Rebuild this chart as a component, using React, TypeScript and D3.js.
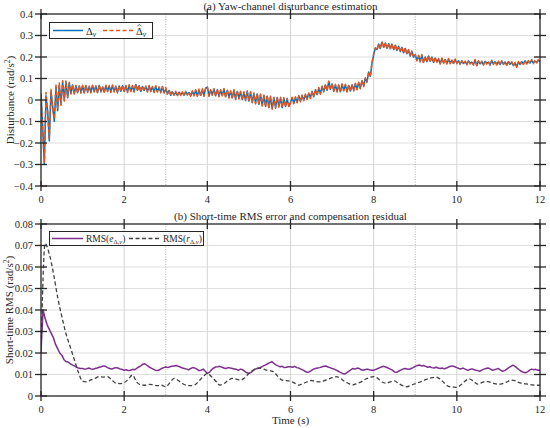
import React from "react";
import * as d3 from "d3";

// ---------- data ----------
const topStep = 0.04;
const deltaTrue = [
  0.03,-0.12,-0.30,0.02,-0.05,-0.19,0.04,-0.03,-0.10,0.06,-0.05,0.07,-0.02,0.085,0.0,0.085,0.01,0.08,0.03,0.07,0.03,0.065,0.035,0.065,0.035,
  0.065,0.035,0.067,0.038,0.062,0.036,0.066,0.04,0.063,0.035,0.068,0.04,0.06,0.037,0.066,0.042,0.064,0.038,0.067,0.04,0.062,0.036,0.065,0.041,0.066,
  0.04,0.065,0.038,0.068,0.042,0.064,0.04,0.072,0.045,0.066,0.04,0.063,0.044,0.062,0.04,0.064,0.042,0.06,0.038,0.063,0.04,0.058,0.036,0.06,0.035,
  0.05,0.03,0.045,0.022,0.038,0.024,0.036,0.022,0.037,0.025,0.035,0.022,0.038,0.026,0.035,0.02,0.04,0.022,0.045,0.02,0.044,0.022,0.048,0.02,0.055,
  0.06,0.02,0.045,0.025,0.05,0.02,0.048,0.018,0.045,0.022,0.05,0.015,0.045,0.012,0.04,0.01,0.045,0.005,0.04,0.008,0.038,0.002,0.035,0.0,0.04,
  -0.005,0.035,-0.01,0.03,-0.015,0.028,-0.02,0.025,-0.025,0.02,-0.03,0.018,-0.035,0.015,-0.04,0.01,-0.035,0.012,-0.03,0.01,-0.035,0.008,-0.03,0.005,-0.03,
  -0.01,0.01,-0.015,0.012,-0.01,0.018,-0.005,0.02,0.0,0.025,0.005,0.03,0.01,0.04,0.015,0.048,0.025,0.055,0.03,0.062,0.04,0.07,0.045,0.085,0.05,
  0.075,0.042,0.07,0.04,0.068,0.038,0.072,0.045,0.07,0.04,0.068,0.042,0.07,0.045,0.075,0.05,0.08,0.055,0.09,0.065,0.1,0.085,0.13,0.11,0.17,
  0.21,0.24,0.235,0.26,0.24,0.27,0.245,0.265,0.24,0.262,0.238,0.26,0.235,0.255,0.23,0.25,0.225,0.245,0.22,0.24,0.215,0.232,0.205,0.225,0.2,
  0.21,0.185,0.205,0.18,0.208,0.175,0.2,0.178,0.205,0.18,0.2,0.175,0.195,0.178,0.19,0.17,0.192,0.172,0.188,0.17,0.19,0.172,0.185,0.17,0.188,
  0.172,0.182,0.168,0.18,0.17,0.178,0.166,0.182,0.17,0.176,0.165,0.185,0.162,0.18,0.168,0.178,0.165,0.18,0.17,0.176,0.164,0.182,0.168,0.178,0.166,
  0.178,0.165,0.18,0.168,0.176,0.164,0.178,0.166,0.175,0.16,0.172,0.155,0.176,0.165,0.178,0.168,0.182,0.17,0.18,0.172,0.185,0.172,0.18,0.175,0.185,
  0.178,
];
const deltaEst = [
  0.03,-0.15,-0.29,0.035,-0.06,-0.18,0.05,-0.04,-0.09,0.07,-0.045,0.08,-0.025,0.09,-0.005,0.088,0.012,0.082,0.028,0.072,0.028,0.068,0.032,0.068,0.032,
  0.068,0.032,0.07,0.035,0.065,0.033,0.069,0.037,0.066,0.032,0.071,0.037,0.063,0.034,0.069,0.039,0.067,0.035,0.07,0.037,0.065,0.033,0.068,0.038,0.069,
  0.037,0.068,0.035,0.071,0.039,0.067,0.037,0.075,0.042,0.069,0.037,0.066,0.041,0.065,0.037,0.067,0.039,0.063,0.035,0.066,0.037,0.061,0.033,0.063,0.032,
  0.058,0.027,0.048,0.019,0.043,0.022,0.041,0.017,0.04,0.021,0.038,0.019,0.041,0.022,0.039,0.017,0.043,0.019,0.048,0.017,0.051,0.015,0.053,0.017,0.058,
  0.063,0.017,0.048,0.022,0.053,0.017,0.051,0.015,0.048,0.019,0.053,0.012,0.048,0.009,0.043,0.007,0.048,0.002,0.043,0.005,0.041,-0.001,0.038,-0.003,0.043,
  -0.008,0.038,-0.013,0.033,-0.018,0.031,-0.023,0.028,-0.028,0.023,-0.033,0.021,-0.038,0.018,-0.043,0.013,-0.038,0.015,-0.033,0.013,-0.038,0.011,-0.033,0.008,-0.033,
  -0.013,0.013,-0.018,0.015,-0.013,0.021,-0.008,0.023,-0.003,0.028,0.002,0.033,0.007,0.043,0.012,0.051,0.022,0.058,0.027,0.065,0.037,0.073,0.042,0.088,0.047,
  0.078,0.039,0.073,0.037,0.071,0.035,0.075,0.042,0.073,0.037,0.071,0.039,0.073,0.042,0.078,0.047,0.083,0.052,0.093,0.062,0.103,0.082,0.133,0.107,0.175,
  0.215,0.243,0.232,0.263,0.237,0.273,0.242,0.268,0.237,0.265,0.235,0.263,0.232,0.258,0.227,0.253,0.222,0.248,0.217,0.243,0.212,0.235,0.202,0.228,0.197,
  0.213,0.182,0.208,0.177,0.211,0.172,0.203,0.175,0.208,0.177,0.203,0.172,0.198,0.175,0.193,0.167,0.195,0.169,0.191,0.167,0.193,0.169,0.188,0.167,0.191,
  0.169,0.185,0.165,0.183,0.167,0.181,0.163,0.185,0.167,0.179,0.162,0.188,0.159,0.183,0.165,0.181,0.162,0.183,0.167,0.179,0.161,0.185,0.165,0.181,0.163,
  0.181,0.162,0.183,0.165,0.179,0.161,0.181,0.163,0.178,0.157,0.175,0.152,0.179,0.162,0.181,0.165,0.185,0.167,0.183,0.169,0.188,0.169,0.183,0.172,0.188,
  0.18,
];

const rmsEStep = 0.05;
const rmsE = [
  0.021,0.040,0.036,0.033,0.031,0.029,0.027,0.024,0.022,0.020,0.019,0.017,0.016,0.0158,0.015,0.0145,0.014,0.0135,0.013,0.0128,
  0.0128,0.0125,0.0127,0.013,0.0126,0.0124,0.0128,0.013,0.0134,0.0136,0.014,0.0138,0.0132,0.0128,0.0126,0.0129,0.0132,0.013,0.0126,0.0124,
  0.012,0.0122,0.0118,0.012,0.0124,0.0122,0.0128,0.0135,0.014,0.0148,0.015,0.0142,0.0135,0.013,0.0125,0.012,0.0118,0.0122,0.0128,0.0132,
  0.0135,0.0132,0.0136,0.0138,0.014,0.0142,0.0138,0.0135,0.013,0.0128,0.0125,0.0122,0.0128,0.0132,0.013,0.0125,0.0118,0.012,0.0125,0.0115,
  0.0105,0.011,0.0122,0.013,0.0135,0.0136,0.0138,0.0134,0.013,0.0128,0.0132,0.013,0.0128,0.0126,0.0124,0.012,0.0125,0.0122,0.0115,0.0108,
  0.0105,0.011,0.0118,0.0125,0.0128,0.013,0.0135,0.014,0.0145,0.015,0.0155,0.016,0.0152,0.0145,0.014,0.0136,0.0138,0.0132,0.0134,0.0136,
  0.0136,0.0134,0.0138,0.0132,0.013,0.0125,0.012,0.0115,0.011,0.0112,0.0118,0.0125,0.0128,0.013,0.0132,0.0135,0.0138,0.014,0.0135,0.0132,
  0.0128,0.0125,0.012,0.0115,0.011,0.0105,0.0102,0.0108,0.0115,0.0122,0.0128,0.0125,0.013,0.0128,0.0122,0.012,0.0123,0.0125,0.0122,0.012,
  0.012,0.0124,0.0128,0.0132,0.0136,0.0138,0.0134,0.013,0.0125,0.012,0.0112,0.011,0.0115,0.012,0.0125,0.0128,0.0126,0.0124,0.0128,0.0132,
  0.0138,0.0142,0.0144,0.014,0.0142,0.0138,0.0134,0.0136,0.0132,0.013,0.0134,0.013,0.0128,0.013,0.0126,0.013,0.0135,0.0138,0.014,0.0136,
  0.0132,0.0128,0.0126,0.013,0.0125,0.012,0.0122,0.0126,0.0124,0.012,0.0118,0.0115,0.012,0.0125,0.0128,0.013,0.0126,0.012,0.0122,0.0125,
  0.0128,0.012,0.0115,0.0118,0.0125,0.0132,0.0138,0.0144,0.0138,0.013,0.0122,0.0115,0.011,0.0108,0.0112,0.012,0.0125,0.0122,0.0124,0.012,
  0.012,
];

const rmsRStep = 0.1;
const rmsR = [
  0.02,0.071,0.066,0.057,0.046,0.037,0.029,0.023,0.017,0.011,
  0.0068,0.0066,0.0075,0.0082,0.009,0.0088,0.009,0.0075,0.006,0.0058,
  0.0062,0.0078,0.0098,0.0065,0.0052,0.005,0.0054,0.0052,0.0048,0.005,
  0.0043,0.0062,0.0082,0.0072,0.0058,0.005,0.0048,0.0052,0.007,0.009,
  0.0105,0.009,0.007,0.0051,0.0058,0.0072,0.0082,0.0078,0.0074,0.0085,
  0.0105,0.012,0.013,0.0128,0.0122,0.0118,0.0112,0.009,0.0074,0.0072,
  0.0068,0.006,0.0051,0.0058,0.0066,0.0072,0.0068,0.0066,0.007,0.0078,
  0.0085,0.009,0.0082,0.0068,0.0058,0.0052,0.0058,0.0066,0.0078,0.0086,
  0.009,0.0082,0.0065,0.006,0.0066,0.007,0.0058,0.0048,0.0043,0.005,
  0.0058,0.0064,0.0072,0.008,0.0085,0.0088,0.0078,0.006,0.0045,0.0042,
  0.004,0.0052,0.007,0.008,0.0068,0.0055,0.0062,0.0068,0.0064,0.0058,
  0.0055,0.0058,0.0065,0.0074,0.0072,0.0062,0.0058,0.0055,0.0052,0.005,
  0.0051,
];

const xTicks = [0, 2, 4, 6, 8, 10, 12];
const markerTimes = [3, 9];
const topYTicks = [-0.4, -0.3, -0.2, -0.1, 0, 0.1, 0.2, 0.3, 0.4];
const botYTicks = [0, 0.01, 0.02, 0.03, 0.04, 0.05, 0.06, 0.07, 0.08];

// ---------- layout ----------
const W = 550, H = 428;
const L = 41, R = 540;
const FONT = "'Liberation Serif', 'Times New Roman', serif";
const AX = "#262626";

const x = d3.scaleLinear().domain([0, 12]).range([L, R]);
const yTop = d3.scaleLinear().domain([-0.4, 0.4]).range([186, 14]);
const yBot = d3.scaleLinear().domain([0, 0.08]).range([396, 224]);

const fmt = (v: number) => {
  if (Math.abs(v) < 1e-9) return "0";
  const s = d3.format(".2~f")(Math.abs(v));
  return (v < 0 ? "\u2212" : "") + s;
};

function Axes({ y, yTicks, clipId }: { y: d3.ScaleLinear<number, number>; yTicks: number[]; clipId: string }) {
  const [y0, y1] = y.range();
  const top = Math.min(y0, y1), bot = Math.max(y0, y1);
  return (
    <g>
      <defs>
        <clipPath id={clipId}>
          <rect x={L} y={top} width={R - L} height={bot - top} />
        </clipPath>
      </defs>
      {yTicks.slice(1, -1).map((t) => (
        <line key={"hg" + t} x1={L} x2={R} y1={y(t)} y2={y(t)} stroke="#dedede" strokeWidth={1} />
      ))}
      {xTicks.slice(1, -1).map((t) => (
        <line key={"vg" + t} x1={x(t)} x2={x(t)} y1={top} y2={bot} stroke="#d4d4d4" strokeWidth={1} />
      ))}
      {markerTimes.map((t) => (
        <line key={"mk" + t} x1={x(t)} x2={x(t)} y1={top} y2={bot} stroke="#9a9a9a" strokeWidth={0.8} strokeDasharray="1,1.5" />
      ))}
    </g>
  );
}

function Frame({ y, yTicks, showXLabels }: { y: d3.ScaleLinear<number, number>; yTicks: number[]; showXLabels: boolean }) {
  const [y0, y1] = y.range();
  const top = Math.min(y0, y1), bot = Math.max(y0, y1);
  return (
    <g>
      <rect x={L} y={top} width={R - L} height={bot - top} fill="none" stroke={AX} strokeWidth={1.3} />
      {xTicks.map((t) => (
        <g key={"xt" + t}>
          <line x1={x(t)} x2={x(t)} y1={bot - 5} y2={bot + 5} stroke={AX} strokeWidth={1.3} />
          <line x1={x(t)} x2={x(t)} y1={top - 5} y2={top + 5} stroke={AX} strokeWidth={1.3} />
          {showXLabels && (
            <text x={x(t)} y={bot + 17} textAnchor="middle" fontSize={10.5} fill="#262626" fontFamily={FONT}>
              {t}
            </text>
          )}
        </g>
      ))}
      {yTicks.map((t) => (
        <g key={"yt" + t}>
          <line x1={L - 6} x2={L + 6} y1={y(t)} y2={y(t)} stroke={AX} strokeWidth={1.3} />
          <line x1={R - 6} x2={R + 6} y1={y(t)} y2={y(t)} stroke={AX} strokeWidth={1.3} />
          <text x={L - 8} y={y(t) + 3.5} textAnchor="end" fontSize={10.5} fill="#262626" fontFamily={FONT}>
            {fmt(t)}
          </text>
        </g>
      ))}
    </g>
  );
}

export default function App() {
  const tTop = deltaTrue.map((_, i) => i * topStep);
  const lineTop = d3
    .line<number>()
    .x((_, i) => x(tTop[i]))
    .y((d) => yTop(d));
  const lineE = d3
    .line<number>()
    .x((_, i) => x(i * rmsEStep))
    .y((d) => yBot(d));
  const lineR = d3
    .line<number>()
    .x((_, i) => x(i * rmsRStep))
    .y((d) => yBot(d))
    .curve(d3.curveMonotoneX);

  return (
    <svg width={W} height={H} style={{ position: "absolute", left: 0, top: 0, background: "#fff" }} fontFamily={FONT}>
      <rect x={0} y={0} width={W} height={H} fill="#fff" />
      {/* ---- top panel ---- */}
      <Axes y={yTop} yTicks={topYTicks} clipId="clipTop" />
      <g clipPath="url(#clipTop)">
        <path d={lineTop(deltaTrue) || ""} fill="none" stroke="#0072BD" strokeWidth={1.5} strokeLinejoin="round" />
        <path d={lineTop(deltaEst) || ""} fill="none" stroke="#E8541A" strokeWidth={1.5} strokeDasharray="4,2.5" strokeLinejoin="round" />
      </g>
      <Frame y={yTop} yTicks={topYTicks} showXLabels={true} />
      <text x={(L + R) / 2} y={10} textAnchor="middle" fontSize={11} fill="#262626">
        (a) Yaw-channel disturbance estimation
      </text>
      <text transform={`translate(14,${yTop(0)}) rotate(-90)`} textAnchor="middle" fontSize={11} fill="#262626">
        Disturbance (rad/s<tspan dy={-4} fontSize={7.5}>2</tspan><tspan dy={4}>)</tspan>
      </text>
      {/* legend top */}
      <g>
        <rect x={49.5} y={22.5} width={103} height={16} fill="#fff" stroke={AX} strokeWidth={1} />
        <line x1={53} x2={83} y1={30.5} y2={30.5} stroke="#0072BD" strokeWidth={1.5} />
        <text x={86} y={34.5} fontSize={10.5} fill="#262626">
          Δ<tspan fontStyle="italic" fontSize={7.5} dy={2}>v</tspan>
        </text>
        <line x1={103} x2={133} y1={30.5} y2={30.5} stroke="#E8541A" strokeWidth={1.5} strokeDasharray="4,2.5" />
        <text x={136} y={34.5} fontSize={10.5} fill="#262626">
          Δ<tspan fontStyle="italic" fontSize={7.5} dy={2}>v</tspan>
        </text>
        <path d="M137.3,26.2 L139.4,24.4 L141.5,26.2" fill="none" stroke="#262626" strokeWidth={0.7} />
      </g>

      {/* ---- bottom panel ---- */}
      <Axes y={yBot} yTicks={botYTicks} clipId="clipBot" />
      <g clipPath="url(#clipBot)">
        <path d={lineE(rmsE) || ""} fill="none" stroke="#7E2F8E" strokeWidth={1.5} strokeLinejoin="round" />
        <path d={lineR(rmsR) || ""} fill="none" stroke="#404040" strokeWidth={1.3} strokeDasharray="4,2.5" />
      </g>
      <Frame y={yBot} yTicks={botYTicks} showXLabels={true} />
      <text x={(L + R) / 2} y={220} textAnchor="middle" fontSize={11} fill="#262626">
        (b) Short-time RMS error and compensation residual
      </text>
      <text transform={`translate(13,${(224 + 396) / 2}) rotate(-90)`} textAnchor="middle" fontSize={11} fill="#262626">
        Short-time RMS (rad/s<tspan dy={-4} fontSize={7.5}>2</tspan><tspan dy={4}>)</tspan>
      </text>
      <text x={(L + R) / 2} y={424} textAnchor="middle" fontSize={11} fill="#262626">
        Time (s)
      </text>
      {/* legend bottom */}
      <g>
        <rect x={49.5} y={231.5} width={154} height={14} fill="#fff" stroke={AX} strokeWidth={1} />
        <line x1={52} x2={83} y1={238.5} y2={238.5} stroke="#7E2F8E" strokeWidth={1.5} />
        <text x={86} y={242} fontSize={9.5} fill="#262626">
          RMS(<tspan fontStyle="italic">e</tspan><tspan fontSize={6.5} dy={2}>Δ,<tspan fontStyle="italic">v</tspan></tspan><tspan dy={-2}>)</tspan>
        </text>
        <line x1={129} x2={160} y1={238.5} y2={238.5} stroke="#404040" strokeWidth={1.3} strokeDasharray="4,2.5" />
        <text x={163} y={242} fontSize={9.5} fill="#262626">
          RMS(<tspan fontStyle="italic">r</tspan><tspan fontSize={6.5} dy={2}>Δ,<tspan fontStyle="italic">v</tspan></tspan><tspan dy={-2}>)</tspan>
        </text>
      </g>
    </svg>
  );
}
